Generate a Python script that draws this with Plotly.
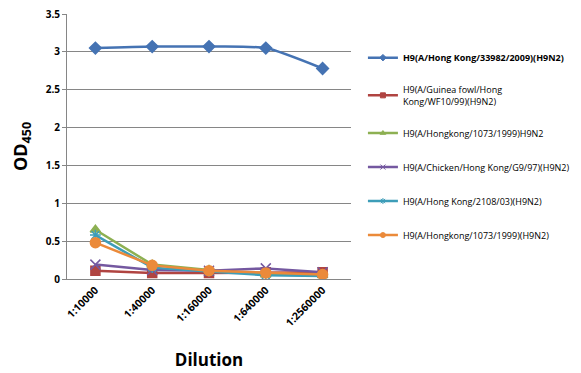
import plotly.graph_objects as go

categories = ["1:10000", "1:40000", "1:160000", "1:640000", "1:2560000"]
names = [
    "<b>H9(A/Hong Kong/33982/2009)(H9N2)</b>",
    "H9(A/Guinea fowl/Hong<br>Kong/WF10/99)(H9N2)",
    "H9(A/Hongkong/1073/1999)H9N2",
    "H9(A/Chicken/Hong Kong/G9/97)(H9N2)",
    "H9(A/Hong Kong/2108/03)(H9N2)",
    "H9(A/Hongkong/1073/1999)(H9N2)",
]
s1 = [3.05, 3.07, 3.07, 3.05, 2.78]
s2 = [0.11, 0.08, 0.08, 0.09, 0.09]
s3 = [0.65, 0.19, 0.12, 0.06, 0.05]
s4 = [0.19, 0.12, 0.11, 0.14, 0.09]
s5 = [0.58, 0.15, 0.10, 0.05, 0.04]
s6 = [0.48, 0.18, 0.11, 0.08, 0.06]
y_ticks = [0, 0.5, 1, 1.5, 2, 2.5, 3, 3.5]
y_ticklabels = ["0", "0.5", "1", "1.5", "2", "2.5", "3", "3.5"]

series = [s1, s2, s3, s4, s5, s6]
colors = ["#4573B3", "#B04441", "#8DB052", "#7458A0", "#3D9DB8", "#EB8A3A"]
symbols = ["diamond", "square", "triangle-up", "x-thin-open", "asterisk-open", "circle"]
sizes = [9, 9, 9, 10, 9, 10]
shapes = ["spline", "linear", "linear", "linear", "linear", "linear"]

fig = go.Figure()
for i, (s, c, sym, sz, shp, nm) in enumerate(zip(series, colors, symbols, sizes, shapes, names)):
    fig.add_trace(go.Scatter(
        x=list(range(len(categories))), y=s, name=nm, mode="lines+markers",
        line=dict(color=c, width=2.5, shape=shp, smoothing=0.6),
        marker=dict(symbol=sym, size=sz, color=c, line=dict(color=c, width=1.5)),
        legendgroup=str(i), showlegend=False,
    ))
    # legend-only entry with small markers (as in the reference legend)
    fig.add_trace(go.Scatter(
        x=[None], y=[None], name=nm, mode="lines+markers",
        line=dict(color=c, width=2.5),
        marker=dict(symbol=sym, size=5, color=c, line=dict(color=c, width=1)),
        legendgroup=str(i), showlegend=True, hoverinfo="skip",
    ))

# page body has an 8px margin; compensate so the plot lands where the reference has it
fig.update_layout(
    width=573, height=365,
    margin=dict(l=59, r=218, t=6, b=94),
    paper_bgcolor="white", plot_bgcolor="white",
    font=dict(family="Open Sans, Liberation Sans, sans-serif", color="black"),
    showlegend=True,
    legend=dict(x=1.042, y=0.89, xanchor="left", yanchor="top",
                font=dict(size=9, family="Open Sans, sans-serif"),
                tracegroupgap=15, itemwidth=30, itemsizing="trace",
                bgcolor="rgba(0,0,0,0)"),
    xaxis=dict(
        tickmode="array", tickvals=list(range(len(categories))),
        ticktext=["<b>%s</b>" % c for c in categories],
        range=[-0.5, 4.5], tickangle=-45, showgrid=False, zeroline=False,
        showline=True, linecolor="#868686", linewidth=1,
        ticks="outside", ticklen=0, automargin=False, ticklabeloverflow="allow",
        tickfont=dict(size=10.5, family="Open Sans, sans-serif"),
        title=dict(text="<b>Dilution</b>", font=dict(size=17), standoff=25),
    ),
    yaxis=dict(
        tickmode="array", tickvals=y_ticks, ticktext=["<b>%s</b>" % t for t in y_ticklabels],
        range=[0, 3.5], showgrid=True, gridcolor="#868686", gridwidth=1,
        zeroline=False, showline=True, linecolor="#868686", linewidth=1,
        ticks="outside", ticklen=4, tickcolor="#868686", automargin=False,
        ticklabeloverflow="allow",
        tickfont=dict(size=10, family="Open Sans, sans-serif"),
        title=dict(text="<b>OD<sub>450</sub></b>", font=dict(size=18), standoff=19),
    ),
)
fig.write_html("out.html")
